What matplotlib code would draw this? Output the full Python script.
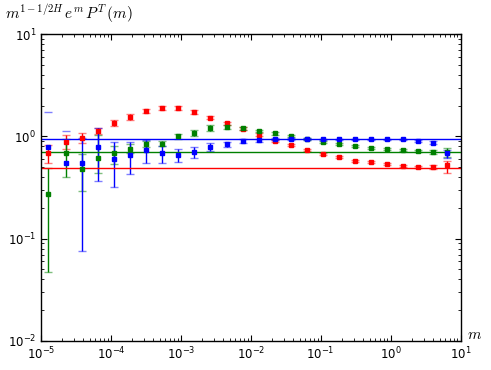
import numpy as np
import matplotlib
matplotlib.use("Agg")
import matplotlib.pyplot as plt

# sample positions in m (log spaced)
m = [1.26e-5, 2.28e-5, 3.85e-5, 6.5e-5, 1.10e-4, 1.87e-4, 3.2e-4, 5.4e-4,
     9.2e-4, 1.56e-3, 2.64e-3, 4.5e-3, 7.7e-3, 0.013, 0.022, 0.037, 0.063,
     0.107, 0.18, 0.31, 0.53, 0.90, 1.48, 2.43, 3.98, 6.3]

# red series
red = [0.69, 0.885, 0.97, 1.13, 1.36, 1.55, 1.78, 1.90, 1.90, 1.72, 1.52, 1.34,
       1.19, 1.04, 0.906, 0.817, 0.73, 0.676, 0.624, 0.578, 0.557, 0.536, 0.516,
       0.50, 0.50, 0.525]
red_lo = [0.14, 0.125, 0.10, 0.08, 0.10, 0.10, 0.09, 0.08, 0.08, 0.07, 0.05, 0.04,
          0.03, 0.03, 0.02, 0.02, 0.015, 0.015, 0.012, 0.012, 0.012, 0.012, 0.012,
          0.015, 0.02, 0.09]
red_hi = [0.13, 0.145, 0.10, 0.08, 0.08, 0.10, 0.09, 0.08, 0.08, 0.07, 0.05, 0.04,
          0.03, 0.03, 0.02, 0.02, 0.015, 0.015, 0.012, 0.012, 0.012, 0.012, 0.012,
          0.015, 0.02, 0.052]

# green series
green = [0.271, 0.69, 0.48, 0.61, 0.68, 0.76, 0.84, 0.85, 1.0, 1.08, 1.21, 1.24,
         1.20, 1.13, 1.07, 1.0, 0.94, 0.88, 0.835, 0.80, 0.77, 0.75, 0.735, 0.72,
         0.70, 0.70]
green_lo = [0.224, 0.29, 0.186, 0.17, 0.145, 0.08, 0.06, 0.05, 0.06, 0.07, 0.07, 0.05,
            0.04, 0.03, 0.03, 0.02, 0.02, 0.02, 0.02, 0.02, 0.02, 0.02, 0.02, 0.02,
            0.03, 0.07]
green_hi = [0.22, 0.245, 0.187, 0.42, 0.13, 0.08, 0.06, 0.05, 0.06, 0.07, 0.07, 0.05,
            0.04, 0.03, 0.03, 0.02, 0.02, 0.02, 0.02, 0.02, 0.02, 0.02, 0.02, 0.02,
            0.03, 0.075]

# blue series
blue = [0.79, 0.545, 0.545, 0.79, 0.60, 0.656, 0.735, 0.69, 0.656, 0.71, 0.78, 0.835,
        0.90, 0.92, 0.94, 0.94, 0.94, 0.935, 0.935, 0.935, 0.935, 0.935, 0.935,
        0.905, 0.866, 0.68]
blue_lo = [0.90, 0.60, 0.469, 0.424, 0.283, 0.226, 0.19, 0.145, 0.10, 0.09, 0.06, 0.055,
           0.04, 0.03, 0.02, 0.02, 0.02, 0.015, 0.015, 0.015, 0.015, 0.015, 0.015,
           0.02, 0.03, 0.07]
blue_hi = [0.95, 0.585, 0.425, 0.42, 0.274, 0.218, 0.185, 0.12, 0.104, 0.07, 0.075, 0.05,
           0.04, 0.03, 0.02, 0.02, 0.02, 0.015, 0.015, 0.015, 0.015, 0.015, 0.015,
           0.02, 0.03, 0.06]

# reference levels
levels = {"r": 0.49, "g": 0.70, "b": 0.935}

fig = plt.figure(figsize=(4.91, 3.70), dpi=100)
ax = fig.add_axes([0.0835, 0.0784, 0.8545, 0.8297])


def draw(x, y, lo, hi, color):
    x, y, lo, hi = map(np.asarray, (x, y, lo, hi))
    ok = y - lo > 0
    eb = ax.errorbar(x[ok], y[ok], yerr=[lo[ok], hi[ok]], fmt="s", color=color,
                     ms=2.4, mec=color, elinewidth=1.0, capsize=3, capthick=1.0)
    for cap in eb[1]:
        cap.set_alpha(0.5)
    # bars reaching below zero: old matplotlib drops the bar, keeps the top cap
    if (~ok).any():
        ax.plot(x[~ok], y[~ok], "s", color=color, ms=2.4)
        ax.plot(x[~ok], y[~ok] + hi[~ok], "_", color=color, ms=6, mew=1.0, alpha=0.5)


draw(m, red, red_lo, red_hi, "r")
draw(m, green, green_lo, green_hi, "g")
draw(m, blue, blue_lo, blue_hi, "b")

for c, v in levels.items():
    ax.axhline(v, color=c, lw=1.0)

ax.set_xscale("log")
ax.set_yscale("log")
ax.set_xlim(1e-5, 1e1)
ax.set_ylim(1e-2, 1e1)
ax.tick_params(which="both", direction="in", top=True, right=True, labelsize=8.5)
ax.tick_params(which="major", length=4)
ax.tick_params(which="minor", length=2)
for s in ax.spines.values():
    s.set_linewidth(1.0)

fig.text(0.01, 0.962, r"$m^{1-1/2H}\,e^{m}\,P^{T}\,(m)$", fontsize=11,
         math_fontfamily="cm", va="center")
fig.text(0.952, 0.095, r"$m$", fontsize=11, math_fontfamily="cm", va="center")

fig.savefig("out.png", dpi=100)
